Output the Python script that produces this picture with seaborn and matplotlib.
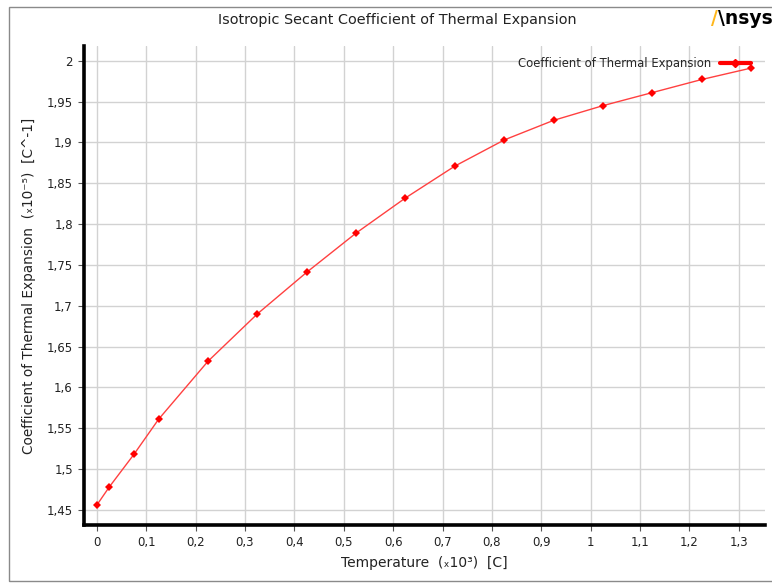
import matplotlib
matplotlib.use("Agg")
import matplotlib.pyplot as plt
import seaborn as sns
import pandas as pd
from matplotlib.ticker import FuncFormatter, MultipleLocator
from matplotlib.lines import Line2D
from matplotlib.patches import Rectangle

temperature = [0.0, 0.025, 0.075, 0.125, 0.225, 0.325, 0.425, 0.525, 0.625,
               0.725, 0.825, 0.925, 1.025, 1.125, 1.225, 1.325]
cte = [1.456, 1.478, 1.518, 1.561, 1.632, 1.690, 1.741, 1.789, 1.832,
       1.871, 1.903, 1.927, 1.945, 1.961, 1.977, 1.991]
series_name = "Coefficient of Thermal Expansion"
title = "Isotropic Secant Coefficient of Thermal Expansion"
xlabel = "Temperature  (\u209310\u00b3)  [C]"
ylabel = "Coefficient of Thermal Expansion  (\u209310\u207b\u2075)  [C^-1]"

df = pd.DataFrame({"T": temperature, "CTE": cte})

sns.set_theme(style="white")
plt.rcParams["font.family"] = ["DejaVu Sans"]

fig = plt.figure(figsize=(7.72, 5.84), dpi=100)
ax = fig.add_axes([84/772, 1-525/584, (765-84)/772, (525-46)/584])

# figure frame
fig.patches.append(Rectangle((9/772, 3/584), 1.0, 1-10/584, transform=fig.transFigure,
                             fill=False, edgecolor="#8a8a8a", linewidth=1.0))

sns.lineplot(data=df, x="T", y="CTE", ax=ax, color="#ff0000", linewidth=1.0,
             marker="D", markersize=4.5, markeredgewidth=0, alpha=1.0)
ax.lines[0].set_color("#ff4040")
ax.lines[0].set_markerfacecolor("#ff0000")

ax.set_xlim(-0.026, 1.353)
ax.set_ylim(1.4316, 2.018)
ax.xaxis.set_major_locator(MultipleLocator(0.1))
ax.yaxis.set_major_locator(MultipleLocator(0.05))
fmt = FuncFormatter(lambda v, p: ("%g" % round(v, 4)).replace(".", ","))
ax.xaxis.set_major_formatter(fmt)
ax.yaxis.set_major_formatter(fmt)

ax.grid(True, color="#d2d2d2", linewidth=1.0)
ax.set_axisbelow(True)
for s in ["top", "right"]:
    ax.spines[s].set_visible(False)
for s in ["left", "bottom"]:
    ax.spines[s].set_visible(True)
    ax.spines[s].set_color("black")
    ax.spines[s].set_linewidth(2.6)

ax.tick_params(axis="both", which="major", direction="out", length=4, width=0.8,
               color="#555555", labelsize=8.5, labelcolor="#222222", pad=4, left=True, bottom=True)

ax.set_xlabel(xlabel, fontsize=10, color="#222222", labelpad=5)
ax.set_ylabel(ylabel, fontsize=9.8, color="#222222", labelpad=8)
fig.text(397/772, 1-20/584, title, ha="center", va="center", fontsize=10.4, color="#222222")

# legend
handle = Line2D([], [], color="#ff0000", linewidth=3.0, marker="D", markersize=4.5)
leg = ax.legend([handle], [series_name], loc="upper right", bbox_to_anchor=(0.995, 1.0),
                frameon=False, fontsize=8.4, handlelength=2.6, markerfirst=False,
                borderaxespad=0.55, handletextpad=0.8)

# Ansys logo
fig.text(711/772, 1-19/584, "/", fontsize=13.5, fontweight="bold", color="#FFB71B",
         ha="left", va="center")
fig.text(718/772, 1-19/584, "\\nsys", fontsize=13.5, fontweight="bold", color="black",
         ha="left", va="center")

fig.savefig("out.png", dpi=100)
